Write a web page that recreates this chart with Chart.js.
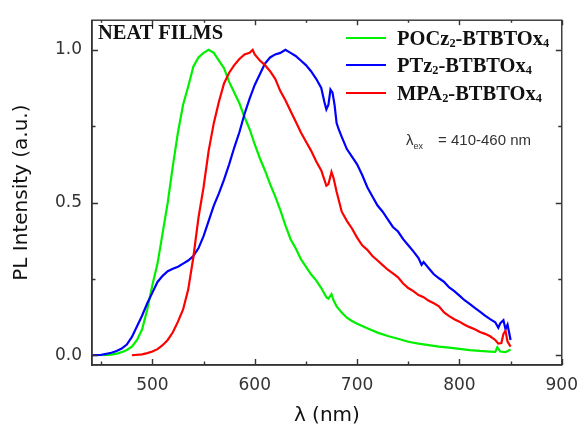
<!DOCTYPE html>
<html><head><meta charset="utf-8">
<script src="https://cdn.jsdelivr.net/npm/chart.js@4.4.1/dist/chart.umd.min.js"></script>
<style>
html,body{margin:0;padding:0;background:#fff;}
#wrap{position:relative;width:588px;height:429px;overflow:hidden;}
canvas{position:absolute;left:0;top:0;}
.serif{font-family:"Liberation Serif","Times New Roman",serif;font-weight:bold;color:#111;white-space:nowrap;}
#neat{position:absolute;left:98px;top:21px;font-size:20.5px;line-height:22px;}
.lrow{position:absolute;left:346px;height:24px;display:flex;align-items:center;}
.lline{display:inline-block;width:40px;height:2.5px;margin-right:11px;}
.ltxt{font-size:20.5px;line-height:24px;}
.ltxt sub{font-size:60%;vertical-align:-0.2em;line-height:0;}
#exc{position:absolute;left:406px;top:130px;font-family:"Liberation Sans",Arial,sans-serif;font-size:15px;line-height:20px;color:#333;white-space:nowrap;}
#exc sub{font-size:60%;vertical-align:-0.45em;line-height:0;}
#exc .eq{margin-left:15px;}
</style></head><body>
<div id="wrap">
<canvas id="c" width="588" height="429"></canvas>
<div id="neat" class="serif">NEAT FILMS</div>
<div id="legend"></div>
<div id="exc">λ<sub>ex</sub><span class="eq">= 410-460 nm</span></div>
</div>
<script>
// ---------- data ----------
const seriesLabels = ['POCz2-BTBTOx4', 'PTz2-BTBTOx4', 'MPA2-BTBTOx4'];
const seriesColors = ['#00f000', '#0000ff', '#ff0000'];

const wlPOCz = [452,460,465,470,475,480,485,490,495,500,505,510,515,520,525,530,535,540,545,550,555,560,565,570,575,580,585,590,595,600,605,610,615,620,625,630,635,640,645,650,655,660,665,670,672,675,677,680,685,690,695,700,710,720,730,740,750,760,770,780,790,800,810,820,830,835,837,840,845,850];
const intPOCz = [0.0,0.002,0.005,0.01,0.017,0.028,0.05,0.085,0.15,0.23,0.30,0.40,0.50,0.62,0.73,0.82,0.88,0.945,0.975,0.99,1.0,0.99,0.965,0.94,0.895,0.86,0.825,0.78,0.74,0.69,0.645,0.605,0.56,0.52,0.475,0.425,0.38,0.35,0.315,0.29,0.265,0.245,0.22,0.19,0.185,0.2,0.18,0.16,0.14,0.123,0.112,0.103,0.088,0.074,0.063,0.054,0.044,0.038,0.033,0.028,0.025,0.021,0.017,0.014,0.012,0.011,0.026,0.012,0.01,0.019];

const wlPTz = [441,450,460,465,470,475,480,485,490,495,500,505,510,515,520,525,530,535,540,545,550,555,560,565,570,575,580,585,590,595,600,605,610,615,620,625,630,635,640,645,650,655,660,665,668,670,672,674,676,678,680,682,685,690,695,700,705,710,715,720,725,730,735,740,745,750,755,760,763,765,770,775,780,785,790,795,800,805,810,815,820,825,830,835,838,840,843,845,847,850];
const intPTz = [0.0,0.001,0.008,0.014,0.022,0.035,0.06,0.095,0.13,0.17,0.205,0.24,0.26,0.275,0.283,0.29,0.30,0.31,0.325,0.35,0.39,0.44,0.49,0.53,0.575,0.625,0.68,0.73,0.79,0.84,0.885,0.92,0.955,0.975,0.985,0.99,1.0,0.99,0.98,0.965,0.95,0.93,0.905,0.875,0.83,0.805,0.82,0.87,0.86,0.82,0.76,0.74,0.715,0.675,0.65,0.625,0.59,0.55,0.52,0.49,0.47,0.445,0.42,0.405,0.38,0.36,0.34,0.318,0.296,0.305,0.285,0.265,0.252,0.24,0.222,0.21,0.195,0.18,0.168,0.155,0.143,0.13,0.118,0.108,0.09,0.105,0.115,0.085,0.10,0.05];

const wlMPA = [480,490,495,500,505,510,515,520,525,530,535,540,545,550,555,560,565,570,575,580,585,590,595,598,600,605,610,615,620,625,630,635,640,645,650,655,660,665,668,670,672,675,677,680,685,690,695,700,705,710,715,720,725,730,735,740,745,750,755,760,765,770,775,780,785,790,795,800,805,810,815,820,825,830,835,838,841,843,845,847,850];
const intMPA = [0.0,0.003,0.007,0.012,0.02,0.033,0.05,0.075,0.11,0.15,0.215,0.32,0.45,0.55,0.67,0.76,0.83,0.89,0.925,0.95,0.97,0.985,0.99,1.0,0.985,0.965,0.95,0.93,0.905,0.865,0.835,0.8,0.765,0.73,0.70,0.67,0.635,0.605,0.575,0.555,0.56,0.60,0.58,0.535,0.47,0.44,0.415,0.385,0.36,0.345,0.325,0.31,0.295,0.28,0.268,0.255,0.235,0.22,0.21,0.197,0.19,0.178,0.17,0.16,0.14,0.128,0.118,0.11,0.10,0.092,0.085,0.076,0.07,0.062,0.05,0.038,0.04,0.07,0.08,0.045,0.028];

const xTickValues = [500, 600, 700, 800, 900];
const xMinorValues = [450, 550, 650, 750, 850];
const yTickValues = [0, 0.5, 1.0];
const yMinorValues = [0.25, 0.75];
const xTitle = 'λ (nm)';
const yTitle = 'PL Intensity (a.u.)';

// ---------- build ----------
const wls = [wlPOCz, wlPTz, wlMPA];
const ints = [intPOCz, intPTz, intMPA];
const drawOrder = [2, 1, 0];
const datasets = seriesLabels.map((lab, k) => ({
  label: lab,
  data: wls[k].map((w, i) => ({x: w, y: ints[k][i]})),
  borderColor: seriesColors[k],
  borderWidth: 2.2,
  pointRadius: 0,
  tension: 0,
  fill: false,
  order: drawOrder[k]
}));

// HTML legend with subscripts
const legendRowsY = [38, 65, 93];
const legendEl = document.getElementById('legend');
seriesLabels.forEach((lab, k) => {
  const row = document.createElement('div');
  row.className = 'lrow';
  row.style.top = (legendRowsY[k] - 12) + 'px';
  const ln = document.createElement('span');
  ln.className = 'lline';
  ln.style.background = seriesColors[k];
  const tx = document.createElement('span');
  tx.className = 'ltxt serif';
  tx.innerHTML = lab.replace(/(\d)/g, '<sub>$1</sub>');
  row.appendChild(ln); row.appendChild(tx);
  legendEl.appendChild(row);
});

const frameColor = '#333';
const frameTicks = {
  id: 'frameTicks',
  afterDatasetsDraw(chart) {
    const {ctx, chartArea: a, scales: {x, y}} = chart;
    ctx.save();
    ctx.strokeStyle = frameColor;
    ctx.lineWidth = 1.4;
    ctx.strokeRect(a.left, a.top, a.right - a.left, a.bottom - a.top);
    ctx.beginPath();
    const xt = (vals, len) => vals.forEach(v => {
      const px = Math.round(x.getPixelForValue(v)) + 0.5;
      ctx.moveTo(px, a.bottom); ctx.lineTo(px, a.bottom - len);
      ctx.moveTo(px, a.top); ctx.lineTo(px, a.top + len - 1);
    });
    const yt = (vals, len) => vals.forEach(v => {
      const py = Math.round(y.getPixelForValue(v)) + 0.5;
      ctx.moveTo(a.left, py); ctx.lineTo(a.left + len, py);
      ctx.moveTo(a.right, py); ctx.lineTo(a.right - len, py);
    });
    xt(xTickValues, 6); xt(xMinorValues, 3.5);
    yt(yTickValues, 6); yt(yMinorValues, 3.5);
    ctx.stroke();
    ctx.restore();
  }
};

new Chart(document.getElementById('c'), {
  type: 'line',
  data: {datasets},
  plugins: [frameTicks],
  options: {
    responsive: false,
    animation: false,
    devicePixelRatio: 1,
    layout: {padding: {left: 0, top: 14, right: 17, bottom: 0}, autoPadding: false},
    plugins: {legend: {display: false}, tooltip: {enabled: false}},
    scales: {
      x: {
        type: 'linear', min: 441, max: 900,
        afterBuildTicks: s => { s.ticks = xTickValues.map(v => ({value: v})); },
        afterFit: s => { s.height = 64; },
        grid: {display: false, drawTicks: false},
        border: {display: true, color: frameColor, width: 1.4},
        ticks: {padding: 10, color: '#333', font: {family: 'DejaVu Sans', size: 17}, maxRotation: 0},
        title: {display: true, text: xTitle, color: '#111', font: {family: 'DejaVu Sans', size: 20, lineHeight: 1.2}, padding: {top: 0, bottom: 1}}
      },
      y: {
        type: 'linear', min: -0.032, max: 1.097,
        afterBuildTicks: s => { s.ticks = yTickValues.map(v => ({value: v})); },
        afterFit: s => { s.width = 92; },
        grid: {display: false, drawTicks: false},
        border: {display: true, color: frameColor, width: 1.4},
        ticks: {padding: 10, color: '#333', font: {family: 'DejaVu Sans', size: 17}, callback: v => Number(v).toFixed(1)},
        title: {display: true, text: yTitle, color: '#111', font: {family: 'DejaVu Sans', size: 20, lineHeight: 1.2}, padding: {top: 10, bottom: 0}}
      }
    }
  }
});
</script>
</body></html>
